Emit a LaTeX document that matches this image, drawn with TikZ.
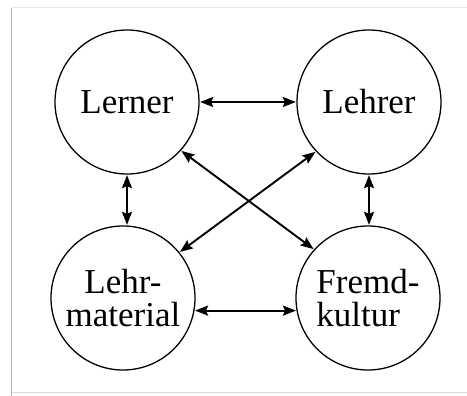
\documentclass[tikz,border=0pt]{standalone}
\usepackage{fontspec}
\setmainfont{Liberation Serif}
\usetikzlibrary{arrows.meta}
\begin{document}
\begin{tikzpicture}[x=1pt,y=-1pt,
  agent/.style={draw,circle,line width=1.3pt,minimum size=144pt,inner sep=0pt,
    font=\fontsize{35}{33}\selectfont},
  link/.style={line width=1.9pt,{Stealth[length=13pt,width=10pt,inset=2pt]}-{Stealth[length=13pt,width=10pt,inset=2pt]},shorten <=0.5pt,shorten >=0.5pt},
  framel/.style={line width=1.5pt}]
\useasboundingbox (0,0) rectangle (467,396);
\fill[white] (0,0) rectangle (467,396);
\draw[framel,gray!55] (11.5,8) -- (11.5,396);
\draw[framel,gray!20] (11.5,7.5) -- (467,7.5);
\draw[framel,gray!30] (11.5,392.5) -- (467,392.5);
\node[agent] (ln) at (127,102) {Lerner};
\node[agent] (lh) at (369,102) {Lehrer};
\node[agent,align=center] (lm) at (123,298) {Lehr-\\material};
\node[agent,align=left] (fk) at (368,298) {Fremd-\\kultur};
\draw[link] (ln.east) -- (lh.west);
\draw[link] (lm.-10) -- (fk.190);
\draw[link] (ln.south) -- (ln.south |- lm.north);
\draw[link] (lh.south) -- (lh.south |- fk.north);
\draw[link] (ln.-42) -- (fk.138);
\draw[link] (lh.-137) -- (lm.39);
\end{tikzpicture}
\end{document}
